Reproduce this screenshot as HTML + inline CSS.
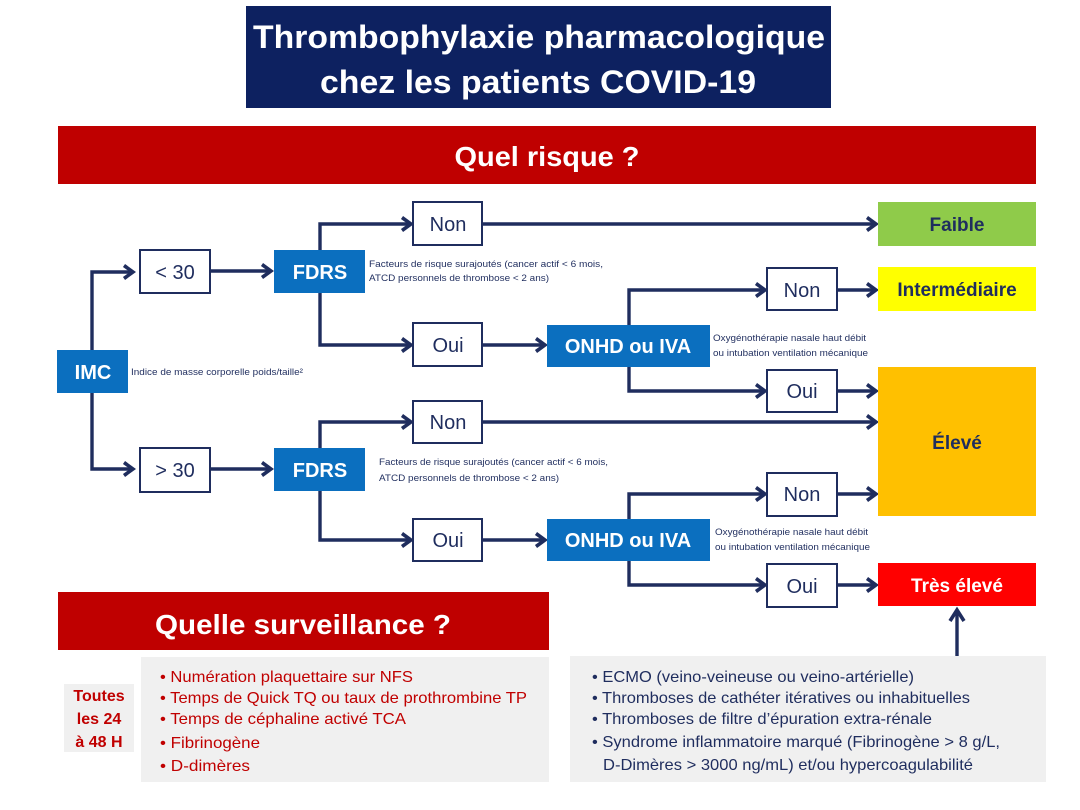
<!DOCTYPE html>
<html><head><meta charset="utf-8"><style>
html,body{margin:0;padding:0;background:#fff;width:1080px;height:810px;overflow:hidden}
svg{display:block}
text{font-family:"Liberation Sans",Arial,sans-serif}
</style></head><body>
<svg width="1080" height="810" viewBox="0 0 1080 810" xmlns="http://www.w3.org/2000/svg">
<defs>
<marker id="a" markerWidth="14" markerHeight="16" refX="11" refY="8" orient="auto" markerUnits="userSpaceOnUse">
<polyline points="2,1.5 11,8 2,14.5" fill="none" stroke="#1f2d5e" stroke-width="3.6"/>
</marker>
</defs>
<!-- title -->
<rect x="246" y="6" width="585" height="102" fill="#0d2160"/>
<text x="539" y="48" text-anchor="middle" fill="#fff" font-size="32" font-weight="bold" textLength="572" lengthAdjust="spacingAndGlyphs">Thrombophylaxie pharmacologique</text>
<text x="538" y="93" text-anchor="middle" fill="#fff" font-size="32" font-weight="bold" textLength="436" lengthAdjust="spacingAndGlyphs">chez les patients COVID-19</text>
<rect x="58" y="126" width="978" height="58" fill="#bf0000"/>
<text x="547" y="166" text-anchor="middle" fill="#fff" font-size="28" font-weight="bold" textLength="185" lengthAdjust="spacingAndGlyphs">Quel risque ?</text>

<g stroke="#1f2d5e" stroke-width="3.4" fill="none">
<polyline points="92,350 92,272 133,272" marker-end="url(#a)"/>
<polyline points="92,393 92,469 133,469" marker-end="url(#a)"/>
<line x1="210" y1="271" x2="271" y2="271" marker-end="url(#a)"/>
<line x1="210" y1="469" x2="271" y2="469" marker-end="url(#a)"/>
<polyline points="320,250 320,224 411,224" marker-end="url(#a)"/>
<polyline points="320,293 320,345 411,345" marker-end="url(#a)"/>
<line x1="482" y1="224" x2="876" y2="224" marker-end="url(#a)"/>
<line x1="482" y1="345" x2="545" y2="345" marker-end="url(#a)"/>
<polyline points="629,325 629,290 765,290" marker-end="url(#a)"/>
<polyline points="629,367 629,391 765,391" marker-end="url(#a)"/>
<line x1="837" y1="290" x2="876" y2="290" marker-end="url(#a)"/>
<line x1="837" y1="391" x2="876" y2="391" marker-end="url(#a)"/>
<polyline points="320,448 320,422 411,422" marker-end="url(#a)"/>
<polyline points="320,491 320,540 411,540" marker-end="url(#a)"/>
<line x1="482" y1="422" x2="876" y2="422" marker-end="url(#a)"/>
<line x1="482" y1="540" x2="545" y2="540" marker-end="url(#a)"/>
<polyline points="629,519 629,494 765,494" marker-end="url(#a)"/>
<polyline points="629,561 629,585 765,585" marker-end="url(#a)"/>
<line x1="837" y1="494" x2="876" y2="494" marker-end="url(#a)"/>
<line x1="837" y1="585" x2="876" y2="585" marker-end="url(#a)"/>
<line x1="957" y1="656" x2="957" y2="610"/>
<polyline points="950,621 957,610 964,621" stroke-width="3.6"/>
</g>

<g fill="#0b6fbf">
<rect x="57" y="350" width="71" height="43"/>
<rect x="274" y="250" width="91" height="43"/>
<rect x="274" y="448" width="91" height="43"/>
<rect x="547" y="325" width="163" height="42"/>
<rect x="547" y="519" width="163" height="42"/>
</g>
<g fill="#fff" font-weight="bold" text-anchor="middle" font-size="20">
<text x="93" y="379">IMC</text>
<text x="320" y="279">FDRS</text>
<text x="320" y="477">FDRS</text>
<text x="628" y="353">ONHD ou IVA</text>
<text x="628" y="547">ONHD ou IVA</text>
</g>
<g fill="#fff" stroke="#1f2d5e" stroke-width="2">
<rect x="140" y="250" width="70" height="43"/>
<rect x="140" y="448" width="70" height="44"/>
<rect x="413" y="202" width="69" height="43"/>
<rect x="413" y="323" width="69" height="43"/>
<rect x="413" y="401" width="69" height="42"/>
<rect x="413" y="519" width="69" height="42"/>
<rect x="767" y="268" width="70" height="42"/>
<rect x="767" y="370" width="70" height="42"/>
<rect x="767" y="473" width="70" height="43"/>
<rect x="767" y="564" width="70" height="43"/>
</g>
<g fill="#1f2d5e" font-size="20" text-anchor="middle">
<text x="175" y="279">&lt; 30</text>
<text x="175" y="477">&gt; 30</text>
<text x="448" y="231">Non</text>
<text x="448" y="352">Oui</text>
<text x="448" y="429">Non</text>
<text x="448" y="547">Oui</text>
<text x="802" y="297">Non</text>
<text x="802" y="398">Oui</text>
<text x="802" y="501">Non</text>
<text x="802" y="593">Oui</text>
</g>
<g fill="#1f2d5e" font-size="9.5">
<text x="131" y="375" textLength="172" lengthAdjust="spacingAndGlyphs">Indice de masse corporelle poids/taille²</text>
<text x="369" y="267" textLength="234" lengthAdjust="spacingAndGlyphs">Facteurs de risque surajoutés (cancer actif &lt; 6 mois,</text>
<text x="369" y="281" textLength="180" lengthAdjust="spacingAndGlyphs">ATCD personnels de thrombose &lt; 2 ans)</text>
<text x="379" y="465" textLength="229" lengthAdjust="spacingAndGlyphs">Facteurs de risque surajoutés (cancer actif &lt; 6 mois,</text>
<text x="379" y="481" textLength="180" lengthAdjust="spacingAndGlyphs">ATCD personnels de thrombose &lt; 2 ans)</text>
<text x="713" y="341" textLength="153" lengthAdjust="spacingAndGlyphs">Oxygénothérapie nasale haut débit</text>
<text x="713" y="356" textLength="155" lengthAdjust="spacingAndGlyphs">ou intubation ventilation mécanique</text>
<text x="715" y="535" textLength="153" lengthAdjust="spacingAndGlyphs">Oxygénothérapie nasale haut débit</text>
<text x="715" y="550" textLength="155" lengthAdjust="spacingAndGlyphs">ou intubation ventilation mécanique</text>
</g>
<rect x="878" y="202" width="158" height="44" fill="#8fcb4a"/>
<rect x="878" y="267" width="158" height="44" fill="#ffff00"/>
<rect x="878" y="367" width="158" height="149" fill="#ffc000"/>
<rect x="878" y="563" width="158" height="43" fill="#ff0000"/>
<g font-weight="bold" font-size="19" text-anchor="middle">
<text x="957" y="231" fill="#1f2d5e">Faible</text>
<text x="957" y="296" fill="#1f2d5e">Intermédiaire</text>
<text x="957" y="449" fill="#1f2d5e">Élevé</text>
<text x="957" y="592" fill="#fff">Très élevé</text>
</g>
<rect x="58" y="592" width="491" height="58" fill="#bf0000"/>
<text x="303" y="634" text-anchor="middle" fill="#fff" font-size="28" font-weight="bold" textLength="296" lengthAdjust="spacingAndGlyphs">Quelle surveillance ?</text>
<rect x="64" y="684" width="70" height="68" fill="#f0f0f0"/>
<g fill="#c00000" font-size="16" font-weight="bold" text-anchor="middle">
<text x="99" y="701">Toutes</text>
<text x="99" y="724">les 24</text>
<text x="99" y="747">à 48 H</text>
</g>
<rect x="141" y="657" width="408" height="125" fill="#f0f0f0"/>
<g fill="#c00000" font-size="16">
<text x="160" y="682" textLength="253" lengthAdjust="spacingAndGlyphs">• Numération plaquettaire sur NFS</text>
<text x="160" y="703" textLength="367" lengthAdjust="spacingAndGlyphs">• Temps de Quick TQ ou taux de prothrombine TP</text>
<text x="160" y="724" textLength="246" lengthAdjust="spacingAndGlyphs">• Temps de céphaline activé TCA</text>
<text x="160" y="748" textLength="100" lengthAdjust="spacingAndGlyphs">• Fibrinogène</text>
<text x="160" y="771" textLength="90" lengthAdjust="spacingAndGlyphs">• D-dimères</text>
</g>
<rect x="570" y="656" width="476" height="126" fill="#f0f0f0"/>
<g fill="#1f2d5e" font-size="16">
<text x="592" y="682" textLength="322" lengthAdjust="spacingAndGlyphs">• ECMO (veino-veineuse ou veino-artérielle)</text>
<text x="592" y="703" textLength="378" lengthAdjust="spacingAndGlyphs">• Thromboses de cathéter itératives ou inhabituelles</text>
<text x="592" y="724" textLength="340" lengthAdjust="spacingAndGlyphs">• Thromboses de filtre d’épuration extra-rénale</text>
<text x="592" y="747" textLength="408" lengthAdjust="spacingAndGlyphs">• Syndrome inflammatoire marqué (Fibrinogène &gt; 8 g/L,</text>
<text x="603" y="770" textLength="370" lengthAdjust="spacingAndGlyphs">D-Dimères &gt; 3000 ng/mL) et/ou hypercoagulabilité</text>
</g>
</svg>
</body></html>
